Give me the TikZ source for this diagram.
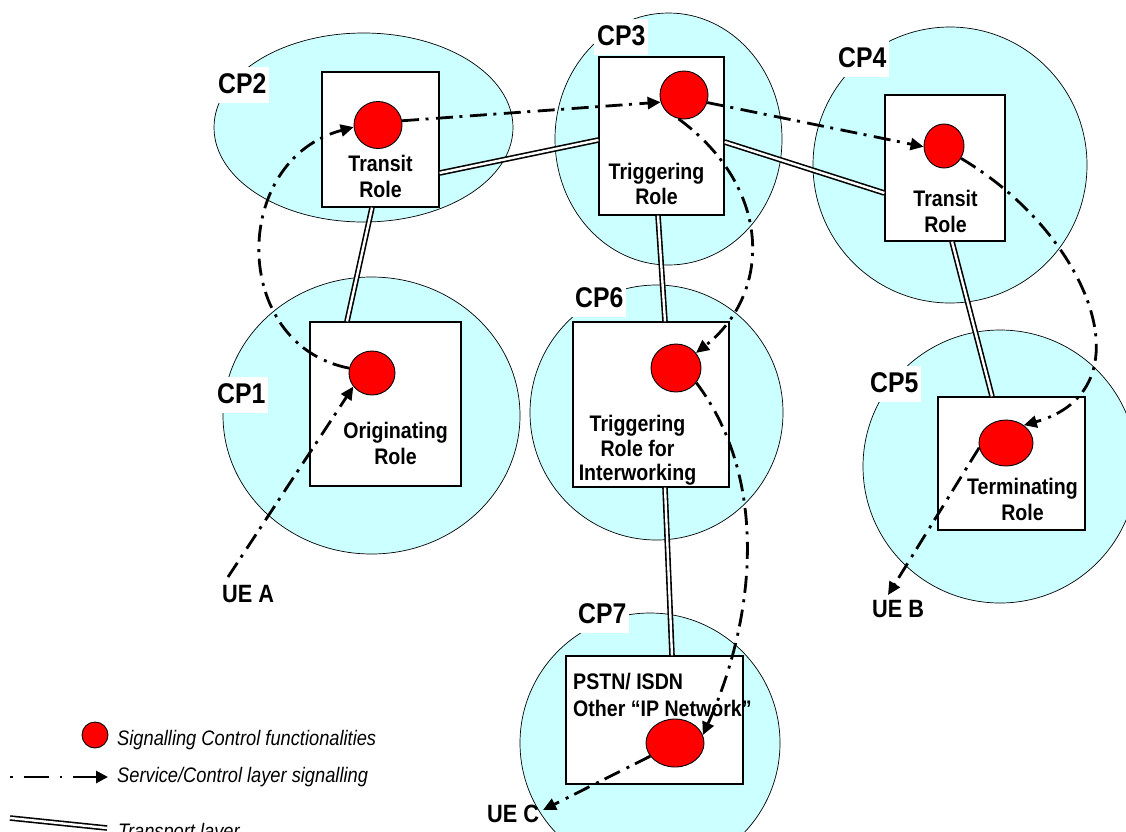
\documentclass[tikz,border=0pt]{standalone}
\usepackage{fontspec}
\setmainfont[FakeStretch=0.87]{Liberation Sans}
\usetikzlibrary{shapes.geometric,arrows.meta,calc}
\definecolor{zonecol}{RGB}{204,255,255}
\begin{document}
\begin{tikzpicture}[x=1pt,y=-1pt,
 zone/.style={ellipse, draw=black, line width=0.7pt, fill=zonecol, inner sep=0pt},
 rolebox/.style={rectangle, draw=black, line width=1.3pt, fill=white, inner sep=0pt},
 sigdot/.style={ellipse, draw=black, line width=0.9pt, fill=red, inner sep=0pt},
 cplab/.style={fill=white, inner xsep=3pt, inner ysep=3pt, text height=23pt, text depth=7pt, anchor=base west, font=\fontsize{28.5}{30}\selectfont\bfseries},
 roletext/.style={anchor=base, inner sep=0pt, font=\fontsize{22.5}{26}\selectfont\bfseries},
 roletextl/.style={anchor=base west, inner sep=0pt, font=\fontsize{22.5}{26}\selectfont\bfseries},
 uelab/.style={anchor=base west, inner sep=0pt, font=\fontsize{25}{28}\selectfont\bfseries},
 legtext/.style={anchor=base west, inner sep=0pt, font=\fontsize{21}{24}\selectfont\itshape},
 transport/.style={draw=black, double=white, line width=1.6pt, double distance=2.4pt},
 signal/.style={draw=black, line width=2.8pt, dash pattern=on 17pt off 6.5pt on 3pt off 7.5pt, -{Triangle[length=13pt,width=12pt]}},
 legsignal/.style={draw=black, line width=2.8pt, dash pattern=on 2.5pt off 11pt on 25pt off 11pt, -{Triangle[length=12pt,width=12pt]}},
]
\useasboundingbox (0,0) rectangle (1126,831);
\clip (0,0) rectangle (1126,831);
\fill[white] (0,0) rectangle (1126,831);

% zones
\node[zone, minimum width=299pt, minimum height=189pt] (z2) at (363.5,127.5) {};
\node[zone, minimum width=227pt, minimum height=252pt] (z3) at (668.5,139) {};
\node[zone, minimum width=274pt, minimum height=276pt] (z4) at (950,165) {};
\node[zone, minimum width=297pt, minimum height=277pt] (z1) at (371.5,415.5) {};
\node[zone, minimum width=253pt, minimum height=255pt] (z6) at (656.5,412.5) {};
\node[zone, minimum width=274pt, minimum height=273pt] (z5) at (1000,466.5) {};
\node[zone, minimum width=260pt, minimum height=260pt] (z7) at (650,743) {};

% role boxes
\node[rolebox, minimum width=117pt, minimum height=135pt] (b2) at (380.5,139.5) {};
\node[rolebox, minimum width=125pt, minimum height=158pt] (b3) at (661.5,136) {};
\node[rolebox, minimum width=120pt, minimum height=146pt] (b4) at (945,168) {};
\node[rolebox, minimum width=151pt, minimum height=164pt] (b1) at (385.5,404) {};
\node[rolebox, minimum width=156pt, minimum height=165pt] (b6) at (651,404.5) {};
\node[rolebox, minimum width=147pt, minimum height=133pt] (b5) at (1011.5,463.5) {};
\node[rolebox, minimum width=177pt, minimum height=128pt] (b7) at (654.5,720) {};

% CP labels
\node[cplab] (l2) at (215,93) {CP2};
\node[cplab] (l3) at (594,45) {CP3};
\node[cplab] (l4) at (835,67) {CP4};
\node[cplab] (l1) at (214,403) {CP1};
\node[cplab] (l6) at (572,307) {CP6};
\node[cplab] (l5) at (867,392) {CP5};
\node[cplab] (l7) at (575,623) {CP7};

% role texts
\node[roletext] (t2a) at (380.5,171) {Transit};
\node[roletext] (t2b) at (380.5,197) {Role};
\node[roletext] (t3a) at (656.5,179) {Triggering};
\node[roletext] (t3b) at (656.5,204) {Role};
\node[roletext] (t4a) at (945.5,206) {Transit};
\node[roletext] (t4b) at (945.5,232) {Role};
\node[roletext] (t1a) at (395.5,438) {Originating};
\node[roletext] (t1b) at (395.5,464) {Role};
\node[roletext] (t6a) at (637.5,431) {Triggering};
\node[roletext] (t6b) at (637.5,456) {Role for};
\node[roletext] (t6c) at (637.5,480) {Interworking};
\node[roletext] (t5a) at (1022.5,494) {Terminating};
\node[roletext] (t5b) at (1022.5,520) {Role};
\node[roletextl] (t7a) at (573,689) {PSTN/ ISDN};
\node[roletextl] (t7b) at (573,716) {Other “IP Network”};

% transport layer
\draw[transport] ([xshift=-8.5pt]b2.south) -- ([xshift=-38.5pt]b1.north);
\draw[transport] ([yshift=-33.5pt]b2.east) -- ([yshift=-4pt]b3.west);
\draw[transport] ([yshift=-6pt]b3.east) -- ([yshift=-25pt]b4.west);
\draw[transport] ([xshift=-3.5pt]b3.south) -- ([xshift=14pt]b6.north);
\draw[transport] ([xshift=7pt]b4.south) -- ([xshift=-19.5pt]b5.north);
\draw[transport] ([xshift=14pt]b6.south) -- ([xshift=17.5pt]b7.north);

% signalling control functionalities
\node[sigdot, minimum width=48pt, minimum height=47pt] (s2) at (378,125) {};
\node[sigdot, minimum width=48pt, minimum height=48pt] (s3) at (684,95) {};
\node[sigdot, minimum width=40pt, minimum height=44pt] (s4) at (944,146) {};
\node[sigdot, minimum width=46pt, minimum height=44pt] (s1) at (372,373) {};
\node[sigdot, minimum width=50pt, minimum height=48pt] (s6) at (676,368) {};
\node[sigdot, minimum width=54pt, minimum height=46pt] (s5) at (1006,443) {};
\node[sigdot, minimum width=58pt, minimum height=48pt] (s7) at (675,743) {};

% UE labels
\node[uelab] (uea) at (222,602) {UE A};
\node[uelab] (ueb) at (872,617) {UE B};
\node[uelab] (uec) at (487,822) {UE C};
\coordinate (ueaend) at (228,577);
\coordinate (uebend) at (888,595);
\coordinate (uecend) at (543,810);

% signalling
\draw[signal] (ueaend) -- (s1.216);
\draw[signal] (s1.168) .. controls (230,345) and (230,160) .. (s2.185);
\draw[signal] (s2.10) -- (s3.197);
\draw[signal] (s3.342) -- (s4.182);
\draw[signal] (s3.257) .. controls (775,190) and (770,295) .. (s6.37);
\draw[signal] (s6.324) .. controls (770,480) and (755,620) .. (s7.16);
\draw[signal] (s7.208) -- (uecend);
\draw[signal] (s4.324) .. controls (1090,235) and (1150,390) .. (s5.45);
\draw[signal] (s5.190) -- (uebend);

% legend
\node[sigdot, minimum width=26pt, minimum height=26pt] (legdot) at (95,735) {};
\node[legtext] (leg1) at (117,745) {Signalling Control functionalities};
\coordinate (lsa) at (10,777);
\coordinate (lsb) at (108,777);
\draw[legsignal] (lsa) -- (lsb);
\node[legtext] (leg2) at (117,782) {Service/Control layer signalling};
\coordinate (lta) at (10,818);
\coordinate (ltb) at (107,828);
\draw[transport] (lta) -- (ltb);
\node[legtext] (leg3) at (118,838) {Transport layer};
\end{tikzpicture}
\end{document}
